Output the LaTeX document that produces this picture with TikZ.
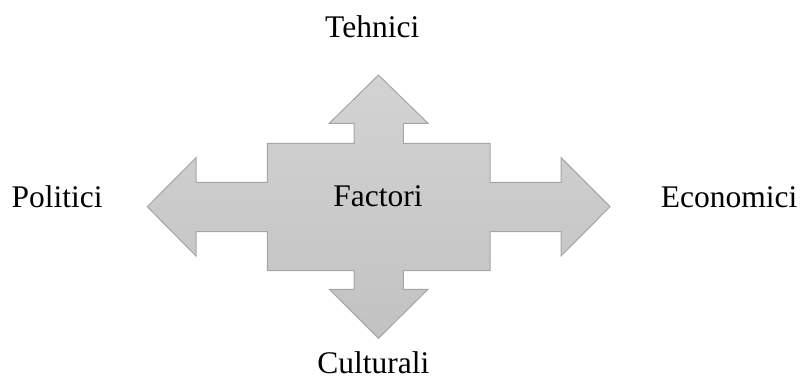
\documentclass[tikz,border=0pt]{standalone}
\usepackage{fontspec}
\setmainfont{Liberation Serif}
\definecolor{shapetop}{HTML}{D3D3D3}
\definecolor{shapebot}{HTML}{C2C2C2}
\definecolor{shapeedge}{HTML}{A5A5A5}
\begin{document}
\begin{tikzpicture}[x=1pt,y=-1pt,
  lbl/.style={anchor=base,inner sep=0pt,font=\fontsize{31.5}{36}\selectfont},
  cross/.style={draw=shapeedge,line width=1pt,top color=shapetop,bottom color=shapebot,line join=miter}]
\useasboundingbox (0,0) rectangle (800,378);
\path[cross] (378.5,75) -- (428,123.3) -- (403.3,123.3) -- (403.3,143.3)
  -- (490,143.3) -- (490,182.3) -- (561,182.3) -- (561,157.7) -- (610,206.7)
  -- (561,256) -- (561,231.7) -- (490,231.7) -- (490,270.7)
  -- (403.3,270.7) -- (403.3,289.3) -- (428,289.3) -- (378.5,338.3)
  -- (329.3,289.3) -- (354,289.3) -- (354,270.7) -- (267.3,270.7)
  -- (267.3,231.7) -- (196,231.7) -- (196,256) -- (147.3,206.7)
  -- (196,157.7) -- (196,182.3) -- (267.3,182.3) -- (267.3,143.3)
  -- (354,143.3) -- (354,123.3) -- (329.3,123.3) -- cycle;
\node[lbl] (factori) at (378,206) {Factori};
\node[lbl] (tehnici) at (372.2,37.3) {Tehnici};
\node[lbl] (politici) at (57.2,207.3) {Politici};
\node[lbl] (economici) at (729,207.3) {Economici};
\node[lbl] (culturali) at (373.3,373.8) {Culturali};
\end{tikzpicture}
\end{document}
